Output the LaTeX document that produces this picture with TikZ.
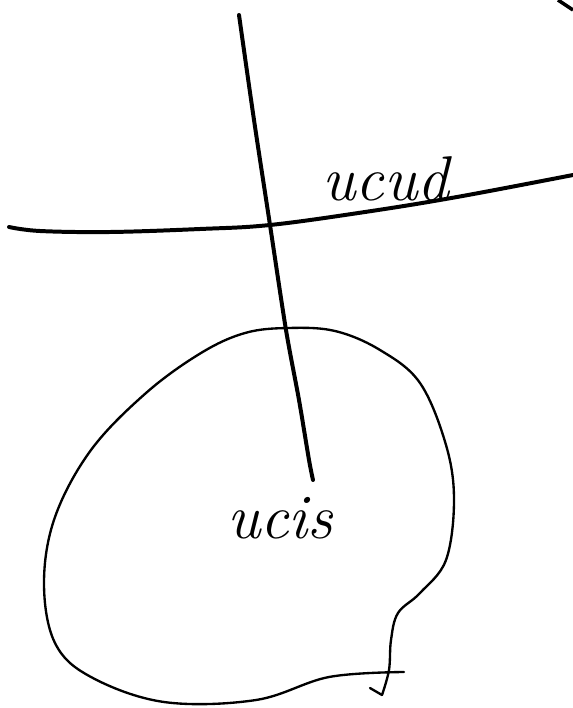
\documentclass[tikz,border=0pt]{standalone}
\usepackage{tikz}
\usetikzlibrary{positioning}

\begin{document}
\begin{tikzpicture}[x=0.03cm,y=-0.03cm,
pen/.style={line width=3.4pt,line cap=round,line join=round},
thinpen/.style={line width=2pt,line cap=round,line join=round},
hand/.style={font=\fontsize{54}{56}\selectfont\itshape,inner sep=0pt}]
\useasboundingbox (0,0) rectangle (573,708);
\coordinate (top) at (239,15);
\coordinate (tip) at (313,480);
\coordinate (west) at (9,227);
\coordinate (east) at (573,175);
% the two strokes
\draw[pen] plot[smooth,tension=0.5] coordinates {(top) (254,120) (270,225) (286,330) (299,400) (309,460) (tip)};
\draw[pen] plot[smooth,tension=0.6] coordinates {(west) (40,231) (110,232) (200,229) (270,225) (365,212) (457,197) (east)};
% the closed loop, open at the bottom right
\draw[thinpen] plot[smooth,tension=0.6] coordinates {(404,672) (329,677) (256,700) (164,702) (91,677) (55,643) (44,583) (55,517) (91,450) (146,393) (201,353) (245,333) (288,328) (335,331) (380,350) (420,383) (446,445) (454,500) (446,560) (420,593) (398,613) (391,640) (389,670) (382,695)};
\draw[thinpen] (382,695) -- (370,688);
% corner mark
\draw[line width=3pt] (558,0) -- (573,10);
\node[hand] (upper) at (386,179) {ucud};
\node[hand] (lower) at (280,518) {ucis};
\end{tikzpicture}
\end{document}
